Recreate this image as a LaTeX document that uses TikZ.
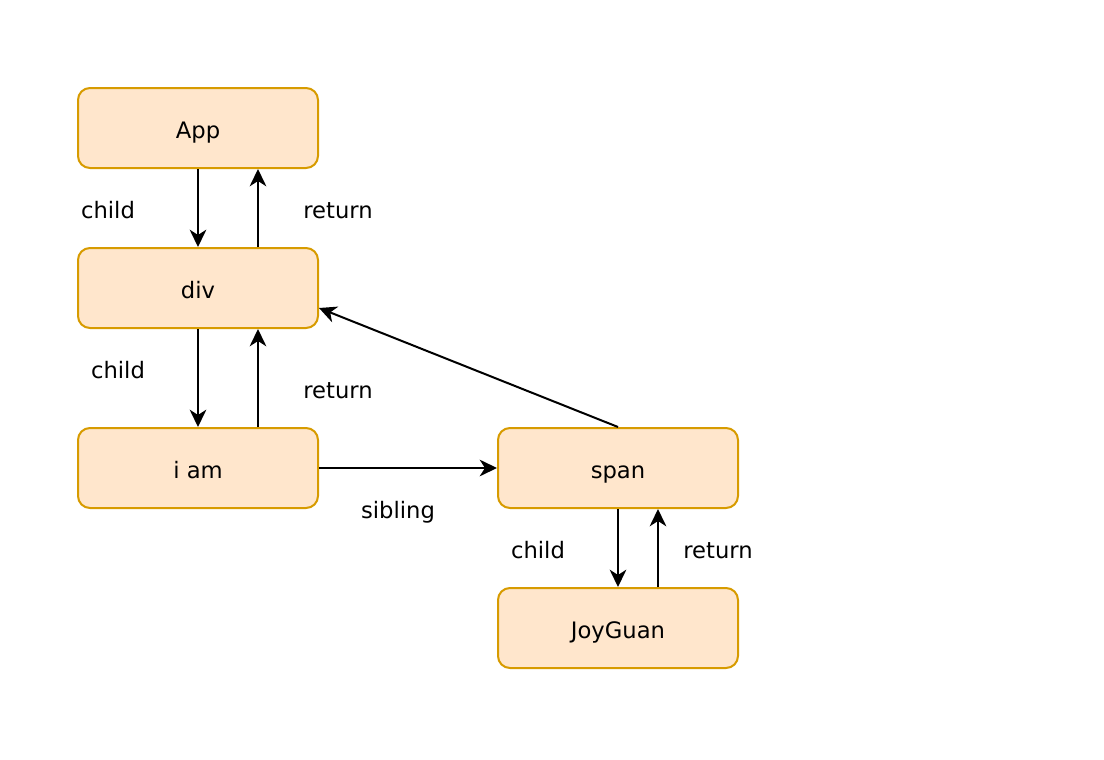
\documentclass[tikz,border=0pt]{standalone}
\usepackage{fontspec}
\setmainfont{DejaVu Sans}
\usetikzlibrary{arrows.meta}
\definecolor{boxfill}{HTML}{FFE6CC}
\definecolor{boxline}{HTML}{D79B00}

\begin{document}
\begin{tikzpicture}[x=0.75pt, y=-0.75pt,
    fiber/.style={draw=boxline, fill=boxfill, line width=1.5pt, rounded corners=9pt,
        minimum width=180pt, minimum height=60pt, text height=17pt, text depth=1pt,
        font=\fontsize{17}{20}\selectfont},
    lbl/.style={anchor=base, font=\fontsize{17}{20}\selectfont},
    link/.style={line width=1.5pt, -{Stealth[length=13pt, width=12.5pt, inset=4pt]}}]
            \useasboundingbox (0,0) rectangle (1104,760);

            % Fiber nodes
            \node[fiber] (app) at (198,128) {App};
            \node[fiber] (div) at (198,288) {div};
            \node[fiber] (iam) at (198,468) {i am};
            \node[fiber] (span) at (618,468) {span};
            \node[fiber] (joy) at (618,628) {JoyGuan};

            % child / return between App and div
            \draw[link] (app.south) -- (div.north);
            \draw[link] ([xshift=45pt]div.north) -- ([xshift=45pt]app.south);
            \node[lbl] (childa) at (108,218) {child};
            \node[lbl] (returna) at (338,218) {return};

            % child / return between div and i am
            \draw[link] (div.south) -- (iam.north);
            \draw[link] ([xshift=45pt]iam.north) -- ([xshift=45pt]div.south);
            \node[lbl] (childb) at (118,378) {child};
            \node[lbl] (returnb) at (338,398) {return};

            % sibling and return of span
            \draw[link] (iam.east) -- (span.west);
            \node[lbl] (sibling) at (398,518) {sibling};
            \draw[link] (span.north) -- ([yshift=-15pt]div.east);

            % child / return between span and JoyGuan
            \draw[link] (span.south) -- (joy.north);
            \draw[link] ([xshift=30pt]joy.north) -- ([xshift=30pt]span.south);
            \node[lbl] (childc) at (538,558) {child};
            \node[lbl] (returnc) at (718,558) {return};
        \end{tikzpicture}
\end{document}
